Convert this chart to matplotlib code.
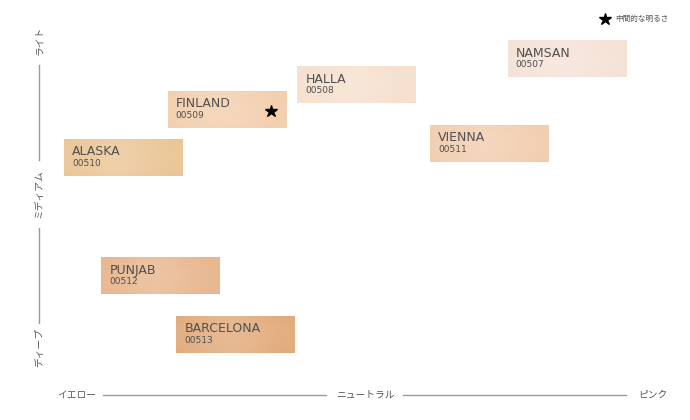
import numpy as np
import matplotlib
matplotlib.use("Agg")
import matplotlib.pyplot as plt
from matplotlib.colors import to_rgb

plt.rcParams['font.family'] = ['Noto Sans CJK JP', 'DejaVu Sans']

# ---- data ----
names = ["NAMSAN", "HALLA", "FINLAND", "ALASKA", "VIENNA", "PUNJAB", "BARCELONA"]
codes = ["00507", "00508", "00509", "00510", "00511", "00512", "00513"]
undertone = [0.70, -0.03, -0.48, -0.84, 0.43, -0.71, -0.45]   # -1 yellow, 0 neutral, +1 pink
lightness = [0.88, 0.71, 0.55, 0.24, 0.33, -0.53, -0.91]      # -1 deep, 0 medium, +1 light
swatch_colors = ["#f5e1d5", "#f6dfcd", "#f2cdaa", "#eac392", "#f1ccad", "#e7b48a", "#e1a877"]
starred = ["FINLAND"]
x_labels = ["イエロー", "ニュートラル", "ピンク"]
y_labels = ["ディープ", "ミディアム", "ライト"]
legend_text = "中間的な明るさ"

# ---- figure ----
fig = plt.figure(figsize=(6.9, 4.2), dpi=100)
ax = fig.add_axes([0, 0, 1, 1])
ax.set_xlim(-1.267, 1.128)
ax.set_ylim(-1.468, 1.260)
ax.axis("off")

W, H = 0.41, 0.24
t = np.linspace(0, 1, 120)
yy = np.linspace(0, 1, 40)
for name, code, ux, ly, col in zip(names, codes, undertone, lightness, swatch_colors):
    base = np.array(to_rgb(col))
    light = 0.16 * np.exp(-((t - 0.45) / 0.35) ** 2)
    vert = 0.04 * np.sin(yy * np.pi) + 0.02 * np.sin(yy * 9 * np.pi) ** 2
    f = np.clip(light[None, :] + vert[:, None], 0, 1)
    img = base[None, None, :] * (1 - f[..., None]) + f[..., None]
    ax.imshow(img, extent=[ux - W / 2, ux + W / 2, ly - H / 2, ly + H / 2],
              aspect="auto", zorder=2, interpolation="bilinear")
    x0 = ux - W / 2 + 0.028
    ax.text(x0, ly + H / 2 - 0.085, name, fontsize=9, color="#505050",
            ha="left", va="center", zorder=3, family="DejaVu Sans")
    ax.text(x0, ly + H / 2 - 0.16, code, fontsize=6.5, color="#505050",
            ha="left", va="center", zorder=3, family="DejaVu Sans")
    if name in starred:
        ax.plot(ux + W / 2 - 0.05, ly - 0.01, marker="*", color="black",
                markersize=9, zorder=4)

# legend
ax.plot(0.834, 1.134, marker="*", color="black", markersize=9)
ax.text(0.868, 1.134, legend_text, fontsize=5.5, color="#555555", va="center", ha="left")

# x axis (bottom)
ylab = -1.305
xpos = [-1, 0, 1]
for xp, lab in zip(xpos, x_labels):
    ax.text(xp, ylab, lab, fontsize=7, color="#555555", ha="center", va="center")
ax.plot([-0.91, -0.135], [ylab, ylab], color="#9a9a9a", lw=1)
ax.plot([0.132, 0.907], [ylab, ylab], color="#9a9a9a", lw=1)

# y axis (left)
xlab = -1.132
ypos = [-1, 0, 1]
for yp, lab in zip(ypos, y_labels):
    ax.text(xlab, yp, lab, fontsize=7, color="#555555", ha="center", va="center", rotation=90)
ax.plot([xlab, xlab], [-0.84, -0.22], color="#9a9a9a", lw=1)
ax.plot([xlab, xlab], [0.22, 0.84], color="#9a9a9a", lw=1)

fig.savefig("out.png", dpi=100)
